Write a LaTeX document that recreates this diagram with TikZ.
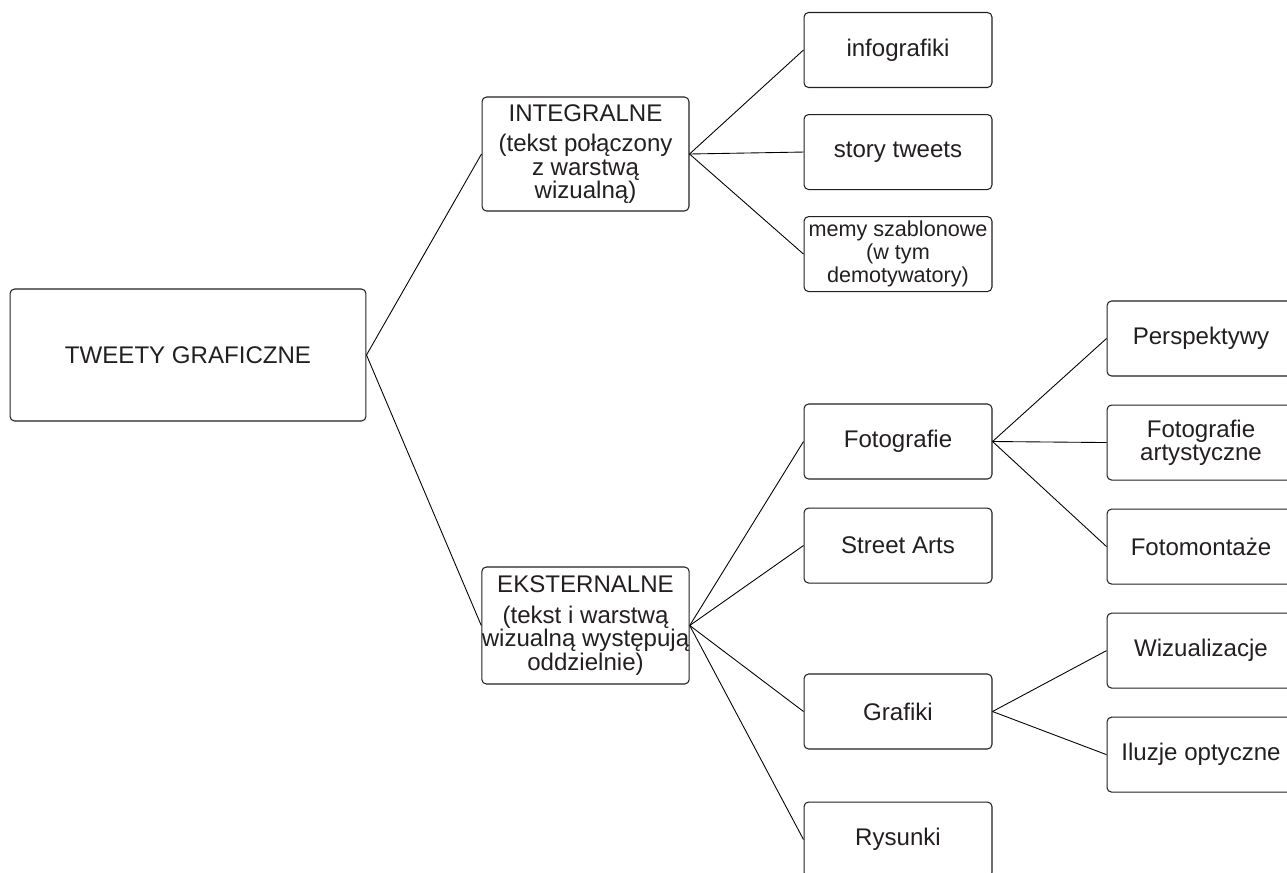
\documentclass[tikz,border=0pt]{standalone}
\usepackage{fontspec}
\setmainfont{Liberation Sans}
\usetikzlibrary{positioning}
\definecolor{boxgray}{RGB}{35,31,32}

\begin{document}
\begin{tikzpicture}[
        x=0.02cm, y=-0.02cm,
        box/.style={rectangle, rounded corners=2.6pt, draw=boxgray, line width=0.6pt, minimum width=3.76cm, minimum height=1.5cm, inner sep=0pt, align=center, text=boxgray, font=\fontsize{13.7}{13.3}\selectfont},
        memybox/.style={box, font=\fontsize{12.3}{13}\selectfont},
        link/.style={draw=black, line width=0.5pt}
    ]
        \useasboundingbox (0,0) rectangle (1287,872);
        \clip (0,0) rectangle (1287,872);

        \node[box, minimum width=7.12cm, minimum height=2.64cm] (root) at (188,355) {TWEETY GRAFICZNE};
        \node[box, minimum width=4.14cm, minimum height=2.28cm] (integ) at (585.5,154) {INTEGRALNE\\[4.3pt](tekst połączony\\z warstwą\\wizualną)};
        \node[box, minimum width=4.14cm, minimum height=2.34cm] (ekst) at (585.5,625.5) {EKSTERNALNE\\[4.3pt](tekst i warstwą\\wizualną występują\\oddzielnie)};

        % pierwsza kolumna dzieci
        \node[box] (info) at (898,50) {infografiki};
        \node[box, below=0.52cm of info] (story) {story tweets};
        \node[memybox, below=0.52cm of story] (memy) {memy szablonowe\\(w tym\\demotywatory)};
        \node[box] (foto) at (898,441.5) {Fotografie};
        \node[box, below=0.56cm of foto] (street) {Street Arts};
        \node[box] (grafiki) at (898,711.5) {Grafiki};
        \node[box, below=1.04cm of grafiki] (rysunki) {Rysunki};

        % druga kolumna dzieci
        \node[box] (persp) at (1201,338.5) {Perspektywy};
        \node[box, below=0.56cm of persp] (fotoart) {Fotografie\\artystyczne};
        \node[box, below=0.56cm of fotoart] (fotomont) {Fotomontaże};
        \node[box, below=0.56cm of fotomont] (wizual) {Wizualizacje};
        \node[box, below=0.56cm of wizual] (iluzje) {Iluzje optyczne};

        \draw[link] (root.east) -- (integ.west);
        \draw[link] (root.east) -- (ekst.west);
        \draw[link] (integ.east) -- (info.west);
        \draw[link] (integ.east) -- (story.west);
        \draw[link] (integ.east) -- (memy.west);
        \draw[link] (ekst.east) -- (foto.west);
        \draw[link] (ekst.east) -- (street.west);
        \draw[link] (ekst.east) -- (grafiki.west);
        \draw[link] (ekst.east) -- (rysunki.west);
        \draw[link] (foto.east) -- (persp.west);
        \draw[link] (foto.east) -- (fotoart.west);
        \draw[link] (foto.east) -- (fotomont.west);
        \draw[link] (grafiki.east) -- (wizual.west);
        \draw[link] (grafiki.east) -- (iluzje.west);
    \end{tikzpicture}
\end{document}
